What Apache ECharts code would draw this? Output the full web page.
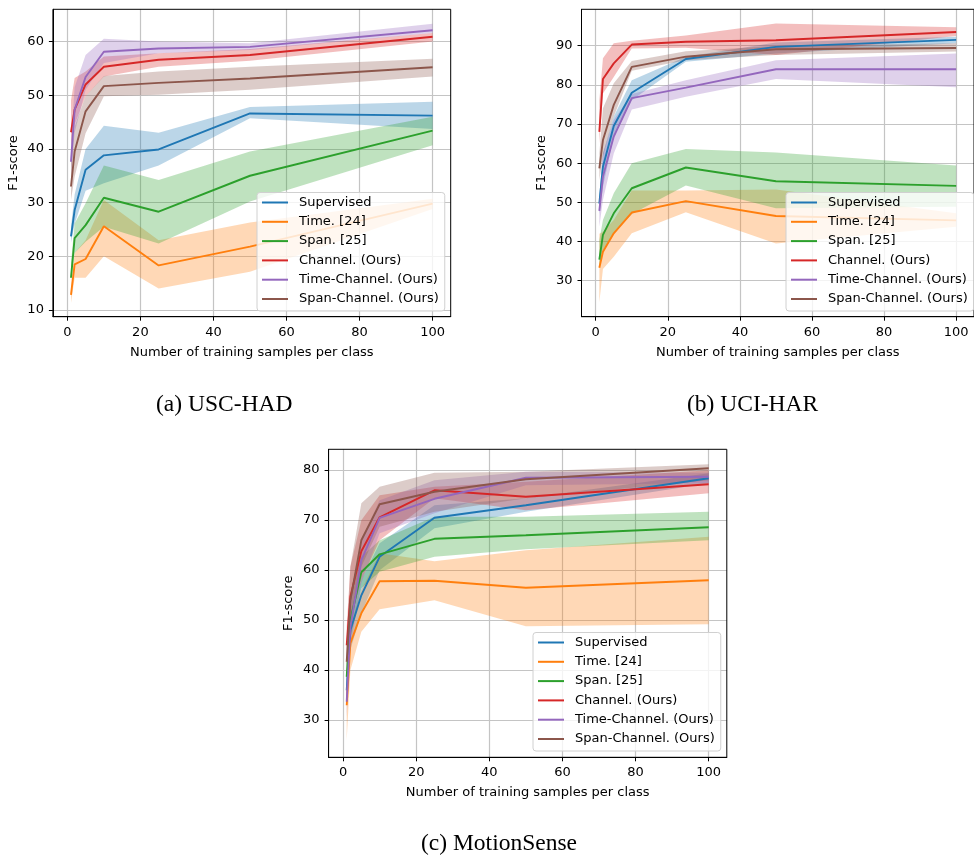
<!DOCTYPE html>
<html>
<head>
<meta charset="utf-8">
<script src="https://cdn.jsdelivr.net/npm/echarts@6/dist/echarts.min.js"></script>
<style>
html,body{margin:0;padding:0;background:#fff;}
#c{width:974px;height:858px;}
</style>
</head>
<body>
<div id="c"></div>
<script>
// ---------- data ----------
const xs = [1, 2, 5, 10, 25, 50, 100];
const methods = ['Supervised', 'Time. [24]', 'Span. [25]', 'Channel. (Ours)', 'Time-Channel. (Ours)', 'Span-Channel. (Ours)'];
const colors = ['#1f77b4', '#ff7f0e', '#2ca02c', '#d62728', '#9467bd', '#8c564b'];
const captions = ['(a) USC-HAD', '(b) UCI-HAR', '(c) MotionSense'];
const xTicks = [0, 20, 40, 60, 80, 100];
const yTicksUSC = [10, 20, 30, 40, 50, 60];
const yTicksUCI = [30, 40, 50, 60, 70, 80, 90];
const yTicksMS = [30, 40, 50, 60, 70, 80];

// (a) USC-HAD  rows follow `methods`
const uscMean = [
  [23.7, 28.6, 36.1, 38.8, 39.9, 46.6, 46.2],
  [12.8, 18.5, 19.5, 25.6, 18.3, 21.8, 29.8],
  [16.0, 23.4, 25.8, 30.9, 28.3, 35.0, 43.4],
  [43.1, 47.3, 52.0, 55.3, 56.6, 57.5, 60.9],
  [37.6, 47.3, 53.4, 58.1, 58.7, 59.0, 62.1],
  [33.0, 39.5, 47.0, 51.7, 52.3, 53.1, 55.2]
];
const uscLow = [
  [22.5, 26.0, 32.2, 33.6, 36.9, 45.7, 43.7],
  [11.3, 16.0, 16.0, 20.0, 14.0, 17.1, 28.8],
  [15.4, 20.6, 22.7, 25.5, 22.4, 30.2, 40.7],
  [40.5, 44.5, 49.8, 53.5, 55.3, 56.4, 60.0],
  [35.0, 43.0, 51.0, 56.0, 57.8, 58.4, 61.6],
  [30.5, 34.8, 42.9, 49.8, 50.1, 51.0, 53.5]
];
const uscHigh = [
  [25.5, 31.5, 40.0, 44.3, 43.0, 47.8, 48.8],
  [14.3, 20.6, 23.0, 30.5, 23.0, 26.3, 30.7],
  [18.7, 26.1, 29.9, 36.9, 34.2, 39.5, 46.0],
  [49.0, 53.2, 54.4, 57.2, 57.8, 58.6, 61.6],
  [41.0, 51.5, 57.5, 60.5, 60.0, 59.7, 63.3],
  [38.6, 44.2, 49.8, 53.6, 54.4, 55.3, 56.8]
];

// (b) UCI-HAR
const uciMean = [
  [49.7, 59.1, 69.5, 78.0, 86.6, 89.7, 91.5],
  [33.3, 37.4, 42.1, 47.4, 50.3, 46.5, 45.4],
  [35.4, 41.7, 47.2, 53.6, 58.9, 55.4, 54.2],
  [68.0, 81.5, 85.5, 90.3, 91.0, 91.4, 93.5],
  [47.8, 56.6, 66.8, 76.6, 79.3, 84.0, 84.0],
  [58.7, 65.9, 74.9, 84.6, 87.2, 89.1, 89.4]
];
const uciLow = [
  [47.0, 54.0, 66.8, 76.1, 85.9, 88.0, 90.6],
  [24.5, 33.0, 36.1, 42.1, 47.5, 39.5, 43.8],
  [33.6, 37.8, 42.1, 47.0, 54.3, 48.5, 48.9],
  [65.0, 77.8, 82.0, 89.3, 89.5, 87.6, 92.5],
  [43.8, 50.6, 62.5, 73.7, 77.0, 81.5, 79.4],
  [55.7, 61.7, 71.9, 83.6, 86.3, 87.6, 88.5]
];
const uciHigh = [
  [52.0, 62.5, 71.9, 81.2, 87.2, 90.8, 92.3],
  [42.0, 42.5, 45.5, 53.0, 53.0, 53.3, 47.2],
  [40.4, 45.5, 52.3, 60.0, 63.6, 62.7, 59.4],
  [76.0, 86.8, 90.6, 91.3, 92.6, 95.7, 94.7],
  [51.4, 62.5, 71.0, 77.7, 81.2, 86.3, 88.0],
  [62.5, 74.0, 80.4, 86.1, 88.6, 89.9, 90.6]
];

// (c) MotionSense
const msMean = [
  [35.9, 47.9, 54.9, 62.6, 70.4, 72.9, 78.3],
  [32.9, 45.3, 51.3, 57.7, 57.8, 56.4, 57.9],
  [38.6, 49.9, 59.5, 63.1, 66.2, 66.9, 68.5],
  [44.9, 54.6, 63.7, 70.5, 75.9, 74.6, 77.1],
  [33.6, 48.6, 61.9, 70.4, 74.2, 78.4, 78.6],
  [41.6, 53.9, 65.9, 73.1, 75.6, 78.1, 80.3]
];
const msLow = [
  [33.0, 44.0, 51.3, 59.9, 68.3, 71.6, 77.3],
  [25.9, 39.9, 47.6, 52.1, 53.9, 48.7, 49.1],
  [34.3, 46.2, 56.3, 59.6, 62.6, 64.1, 65.9],
  [40.6, 49.9, 57.9, 65.9, 74.3, 71.9, 75.3],
  [30.6, 44.6, 57.3, 67.3, 71.3, 76.9, 77.3],
  [32.6, 47.3, 60.6, 68.6, 71.6, 74.3, 77.9]
];
const msHigh = [
  [39.3, 51.3, 57.9, 65.3, 72.9, 74.3, 79.3],
  [36.6, 48.6, 55.9, 63.3, 61.7, 63.9, 66.6],
  [42.6, 54.6, 62.6, 65.9, 70.6, 70.6, 71.6],
  [48.6, 60.6, 69.9, 74.9, 76.6, 77.6, 79.9],
  [39.3, 53.9, 65.9, 73.9, 77.9, 79.6, 79.4],
  [45.9, 60.6, 73.3, 76.6, 79.4, 79.6, 81.1]
];

// ---------- layout ----------
const FONT = 'DejaVu Sans';
const panels = [
  { mean: uscMean, low: uscLow, high: uscHigh, yTicks: yTicksUSC, ymin: 8.75, ymax: 66.0,
    grid: { left: 52.9, top: 9.3, width: 397.8, height: 307.4 }, legend: { left: 257, top: 192.5 } },
  { mean: uciMean, low: uciLow, high: uciHigh, yTicks: yTicksUCI, ymin: 20.8, ymax: 99.3,
    grid: { left: 581.5, top: 9.3, width: 398.9, height: 307.4 }, legend: { left: 786, top: 192.5 } },
  { mean: msMean, low: msLow, high: msHigh, yTicks: yTicksMS, ymin: 22.5, ymax: 84.1,
    grid: { left: 328.6, top: 449.3, width: 398.2, height: 308.0 }, legend: { left: 533, top: 632.5 } }
];

function bandRenderer(lowArr, highArr, color) {
  return function (params, api) {
    if (params.dataIndex !== 0) return null;
    const pts = [];
    for (let i = 0; i < xs.length; i++) pts.push(api.coord([xs[i], highArr[i]]));
    for (let i = xs.length - 1; i >= 0; i--) pts.push(api.coord([xs[i], lowArr[i]]));
    return {
      type: 'polygon',
      shape: { points: pts },
      style: { fill: color, opacity: 0.3, stroke: null }
    };
  };
}

const grids = [], xAxes = [], yAxes = [], series = [], legends = [];
panels.forEach((p, gi) => {
  grids.push(Object.assign({ show: true, borderColor: '#000', borderWidth: 1, backgroundColor: 'transparent', z: 5 }, p.grid));
  xAxes.push({
    type: 'value', gridIndex: gi, min: -3.95, max: 104.95,
    name: 'Number of training samples per class', nameLocation: 'middle', nameGap: 29,
    nameTextStyle: { fontFamily: FONT, fontSize: 13, color: '#000' },
    axisLine: { show: true, onZero: false, lineStyle: { color: '#000', width: 1 } },
    axisTick: { show: true, length: 4, customValues: xTicks, lineStyle: { color: '#000' } },
    axisLabel: { customValues: xTicks, fontFamily: FONT, fontSize: 13, color: '#000', margin: 9 },
    splitLine: { show: true, lineStyle: { color: '#c4c4c4', width: 1.2 } }
  });
  yAxes.push({
    type: 'value', gridIndex: gi, min: p.ymin, max: p.ymax,
    name: 'F1-score', nameLocation: 'middle', nameGap: 33,
    nameTextStyle: { fontFamily: FONT, fontSize: 13, color: '#000' },
    axisLine: { show: true, onZero: false, lineStyle: { color: '#000', width: 1 } },
    axisTick: { show: true, length: 4, customValues: p.yTicks, lineStyle: { color: '#000' } },
    axisLabel: { customValues: p.yTicks, fontFamily: FONT, fontSize: 13, color: '#000', margin: 9 },
    splitLine: { show: true, lineStyle: { color: '#c4c4c4', width: 1.2 } }
  });
  methods.forEach((m, mi) => {
    series.push({
      type: 'custom', name: 'band' + gi + '_' + mi, xAxisIndex: gi, yAxisIndex: gi,
      silent: true, z: 1, clip: true,
      renderItem: bandRenderer(p.low[mi], p.high[mi], colors[mi]),
      encode: { x: 0, y: [1, 2] },
      data: xs.map((x, i) => [x, p.low[mi][i], p.high[mi][i]])
    });
  });
  methods.forEach((m, mi) => {
    series.push({
      type: 'line', name: m, xAxisIndex: gi, yAxisIndex: gi,
      symbol: 'none', z: 3, color: colors[mi],
      lineStyle: { color: colors[mi], width: 1.9 },
      data: xs.map((x, i) => [x, p.mean[mi][i]])
    });
  });
  legends.push({
    orient: 'vertical', left: p.legend.left, top: p.legend.top,
    data: methods.map(m => ({ name: m, icon: 'rect' })),
    itemWidth: 26, itemHeight: 2, itemGap: 5.3,
    padding: [3, 6, 5, 5],
    backgroundColor: 'rgba(255,255,255,0.8)', borderColor: '#d0d0d0', borderWidth: 1, borderRadius: 3,
    textStyle: { fontFamily: FONT, fontSize: 13, color: '#000', lineHeight: 14, padding: [0, 0, 0, 6] },
    selectedMode: false, z: 10
  });
});

const chart = echarts.init(document.getElementById('c'), null, { renderer: 'canvas' });
chart.setOption({
  animation: false,
  backgroundColor: '#fff',
  grid: grids, xAxis: xAxes, yAxis: yAxes, series: series, legend: legends,
  graphic: [
    { type: 'text', left: 229 - 73, top: 393, style: { text: captions[0], font: '23.5px "Liberation Serif"', fill: '#000' } },
    { type: 'text', left: 745 - 58, top: 393, style: { text: captions[1], font: '23.5px "Liberation Serif"', fill: '#000' } },
    { type: 'text', left: 505 - 84, top: 832, style: { text: captions[2], font: '23.5px "Liberation Serif"', fill: '#000' } }
  ]
});
</script>
</body>
</html>
